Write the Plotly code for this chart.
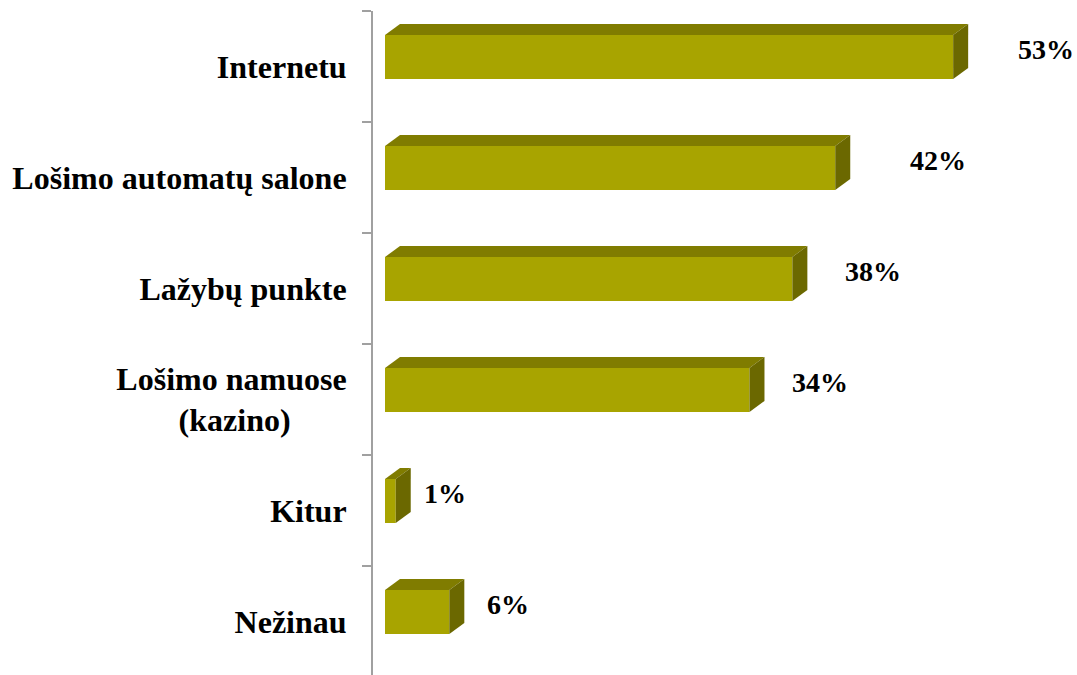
import plotly.graph_objects as go

categories = ["Internetu", "Lošimo automatų salone", "Lažybų punkte",
              "Lošimo namuose<br>(kazino)\u00a0\u00a0\u00a0\u00a0\u00a0\u00a0\u00a0", "Kitur", "Nežinau"]
values = [53, 42, 38, 34, 1, 6]
value_labels = ["53%", "42%", "38%", "34%", "1%", "6%"]

# style: horizontal pixel gap of each value label from its bar end
label_xshift = [63, 73, 51, 41, 26, 36]

FRONT = "#A8A400"
TOP = "#807C00"
SIDE = "#6B6800"
AXIS = "#A0A0A0"

W, H = 1077, 675
L, R, T, B = 373, 0, 11, 0
plot_w = W - L - R
plot_h = H - T - B
kx = 10.72          # px per percent
ky = 111.0          # px per category
x0 = -12 / kx
x1 = x0 + plot_w / kx
y_top = -0.5
y_bot = y_top + plot_h / ky

pos = list(range(len(categories)))
bar_offset = -31.5 / ky        # front face top relative to category centre
bar_width = 44 / ky
dx = 15 / kx
dy = 11 / ky

fig = go.Figure()
fig.add_trace(go.Bar(
    x=values, y=pos, orientation="h",
    marker=dict(color=FRONT, line=dict(width=0)),
    offset=bar_offset, width=bar_width, hoverinfo="skip",
))

shapes = []
for p, v in zip(pos, values):
    yt = p + bar_offset
    yb = yt + bar_width
    top = f"M 0 {yt} L {v} {yt} L {v+dx} {yt-dy} L {dx} {yt-dy} Z"
    side = f"M {v} {yt} L {v+dx} {yt-dy} L {v+dx} {yb-dy} L {v} {yb} Z"
    shapes.append(dict(type="path", path=top, xref="x", yref="y",
                       fillcolor=TOP, line=dict(width=0), layer="above"))
    shapes.append(dict(type="path", path=side, xref="x", yref="y",
                       fillcolor=SIDE, line=dict(width=0), layer="above"))

annotations = []
for p, v, t, xs in zip(pos, values, value_labels, label_xshift):
    annotations.append(dict(
        x=v, y=p - 17 / ky, xref="x", yref="y", xshift=xs,
        text=t, showarrow=False, xanchor="left", yanchor="middle",
        font=dict(family="Liberation Serif", size=28, color="black", weight="bold"),
    ))

fig.update_layout(
    width=W, height=H,
    margin=dict(l=L, r=R, t=T, b=B, pad=0),
    plot_bgcolor="white", paper_bgcolor="white",
    showlegend=False,
    shapes=shapes, annotations=annotations,
    xaxis=dict(range=[x0, x1], visible=False, showgrid=False, zeroline=False),
    yaxis=dict(
        range=[y_bot, y_top], tickmode="array", tickvals=pos, ticktext=categories,
        showline=True, linecolor=AXIS, linewidth=2, ticks="",
        showgrid=False, zeroline=False, ticklabelstandoff=18,
        tickfont=dict(family="Liberation Serif", size=32, color="black", weight="bold"),
        minor=dict(tickmode="array", tickvals=[p - 0.5 for p in pos] + [len(pos) - 0.5],
                   ticks="outside", ticklen=9, tickwidth=2, tickcolor=AXIS, showgrid=False),
    ),
)

fig.write_html("out.html", config={"displayModeBar": False},
               post_script="document.body.style.margin='0';")
